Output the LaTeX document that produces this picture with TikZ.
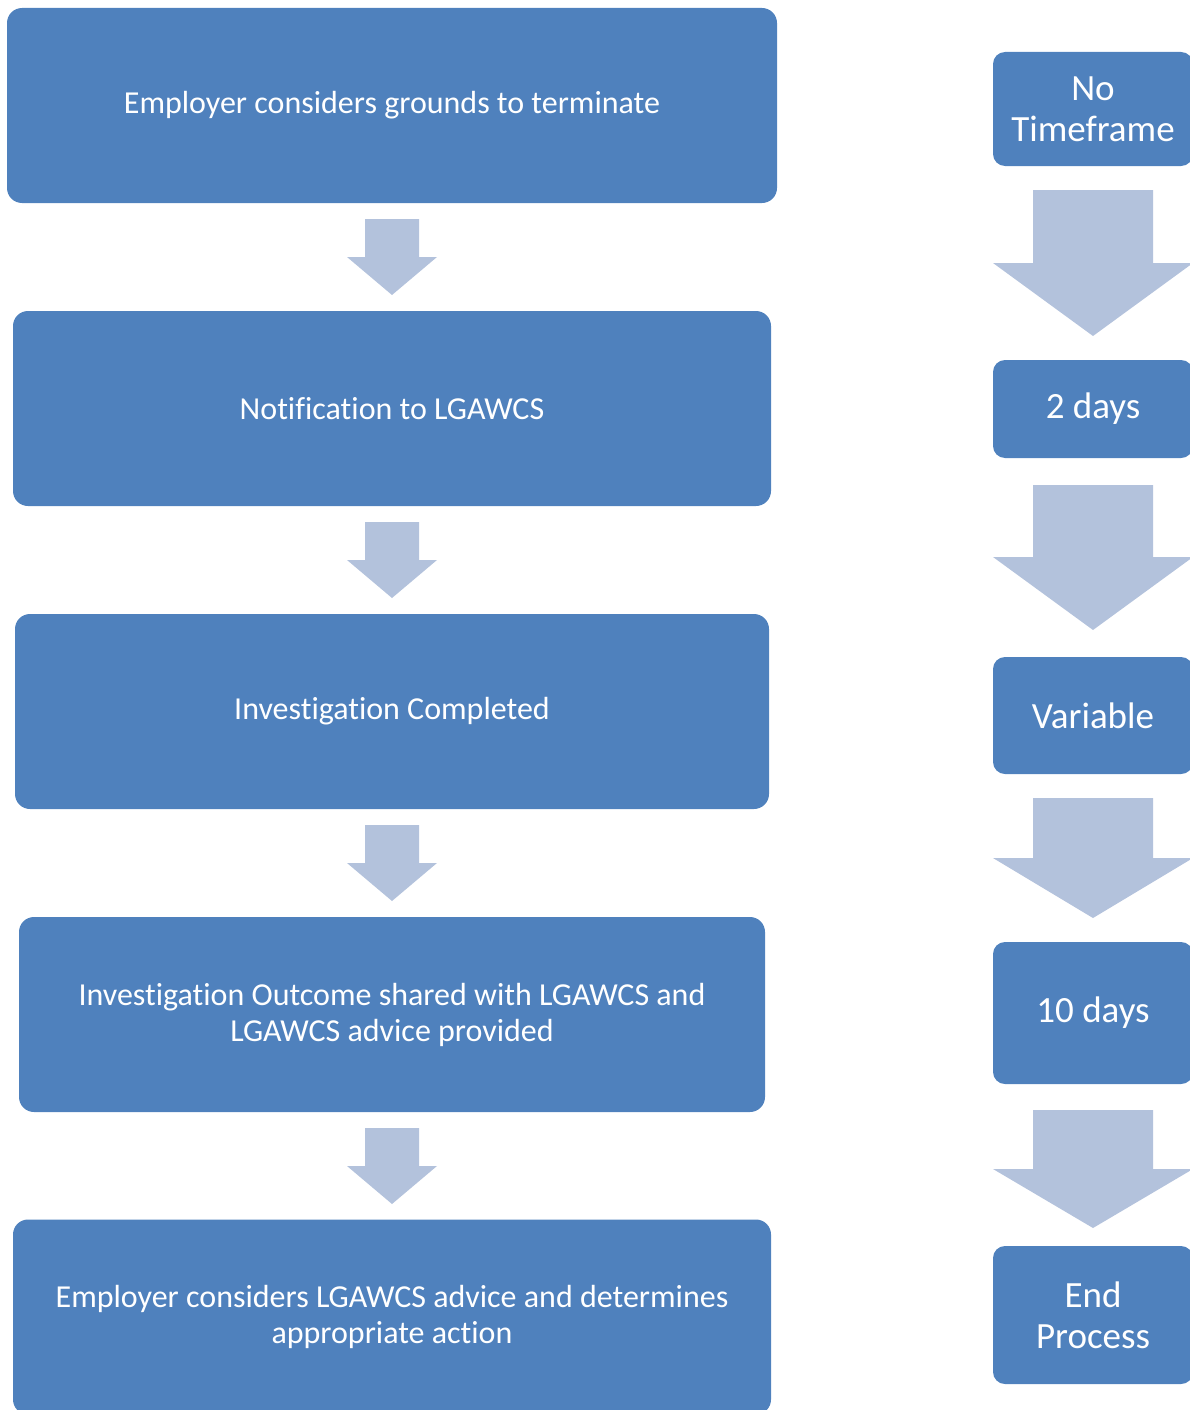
\documentclass[tikz,border=0pt]{standalone}
\usepackage{fontspec}
\setmainfont[Ligatures=NoCommon]{Carlito}
\definecolor{boxblue}{HTML}{4F81BD}
\definecolor{arrowblue}{HTML}{B3C2DC}
\tikzset{
  stepbox/.style={fill=boxblue, rounded corners=15pt, text=white, align=center, inner sep=0pt,
    font=\fontsize{32}{36}\selectfont},
  timebox/.style={fill=boxblue, rounded corners=12pt, text=white, align=center, inner sep=0pt,
    minimum width=200pt, font=\fontsize{37}{41}\selectfont},
  pics/downarrow/.style n args={4}{code={
    \fill[arrowblue] (-#1,0) -- (#1,0) -- (#1,#3) -- (#2,#3) -- (0,#4) -- (-#2,#3) -- (-#1,#3) -- cycle;}}
}
\begin{document}
\begin{tikzpicture}[x=1pt,y=-1pt]
\useasboundingbox (0,0) rectangle (1190,1410);
\clip (0,0) rectangle (1190,1410);
% left column
\node[stepbox, minimum width=770pt, minimum height=195pt] (l1) at (392,105.5) {Employer considers grounds to terminate};
\node[stepbox, minimum width=758pt, minimum height=195pt] (l2) at (392,408.5) {Notification to LGAWCS};
\node[stepbox, minimum width=754pt, minimum height=195pt] (l3) at (392,711.5) {Investigation Completed};
\node[stepbox, minimum width=746pt, minimum height=195pt] (l4) at (392,1014.5) {Investigation Outcome shared with LGAWCS and\\LGAWCS advice provided};
\node[stepbox, minimum width=758pt, minimum height=195pt] (l5) at (392,1317) {Employer considers LGAWCS advice and determines\\appropriate action};
\pic at (392,219) {downarrow={27}{45}{38}{76}};
\pic at (392,522) {downarrow={27}{45}{38}{76}};
\pic at (392,825) {downarrow={27}{45}{38}{76}};
\pic at (392,1128) {downarrow={27}{45}{38}{76}};
% right column
\node[timebox, minimum height=114pt] (r1) at (1093,109) {No\\Timeframe};
\node[timebox, minimum height=98pt] (r2) at (1093,409) {2 days};
\node[timebox, minimum height=117pt] (r3) at (1093,715.5) {Variable};
\node[timebox, minimum height=142pt] (r4) at (1093,1013) {10 days};
\node[timebox, minimum height=138pt] (r5) at (1093,1315) {End\\Process};
\pic at (1093,190) {downarrow={60}{100}{73}{146}};
\pic at (1093,485) {downarrow={60}{100}{72}{145}};
\pic at (1093,798) {downarrow={60}{100}{60}{120}};
\pic at (1093,1110) {downarrow={60}{100}{59}{118}};
\end{tikzpicture}
\end{document}
